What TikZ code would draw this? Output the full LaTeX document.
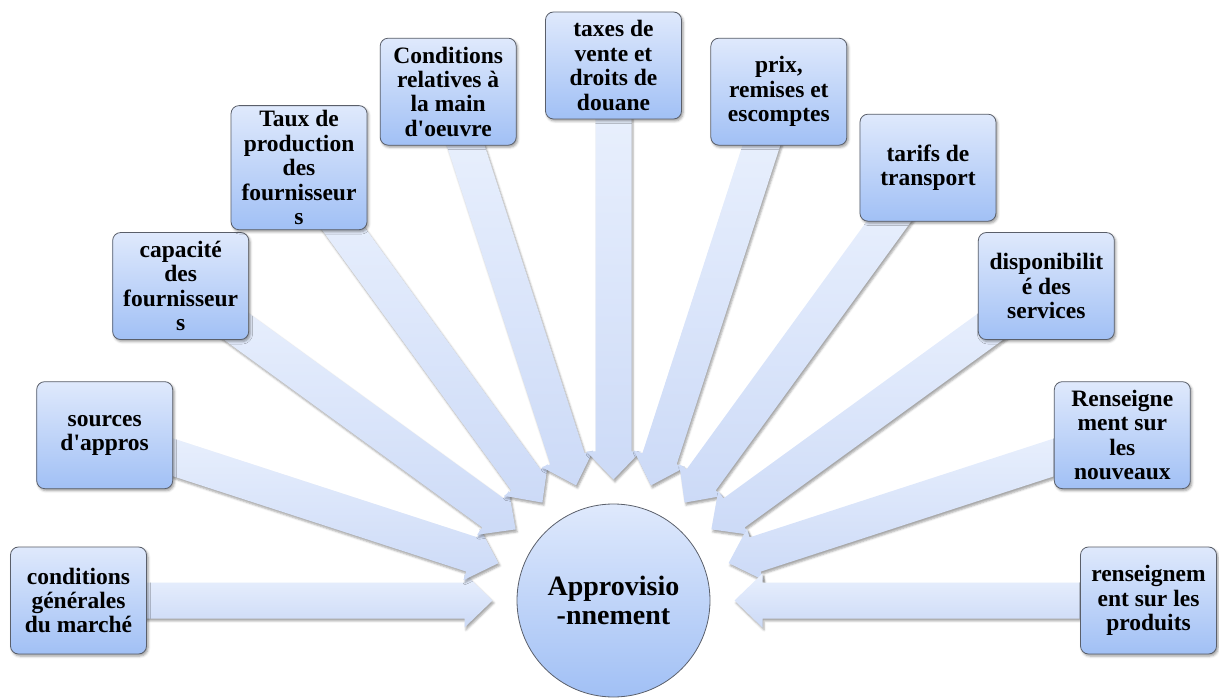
\documentclass[tikz,border=0pt]{standalone}
\usepackage{fontspec}
\setmainfont{Liberation Serif}
\usetikzlibrary{calc,shadows.blur}
\pgfdeclarelayer{background}
\pgfsetlayers{background,main}
\definecolor{boxtop}{HTML}{DFE9FC}
\definecolor{boxbot}{HTML}{A1C0F5}
\definecolor{boxline}{HTML}{5A5F6A}
\definecolor{arrtop}{HTML}{E9F0FD}
\definecolor{arrbot}{HTML}{CCDAF7}

\begin{document}
\begin{tikzpicture}[x=1pt,y=1pt,
  factor/.style={draw=boxline, line width=0.8pt, rounded corners=8pt,
    top color=boxtop, bottom color=boxbot,
    minimum width=136pt, minimum height=107pt, inner sep=5pt, align=center,
    font=\fontsize{23.5}{24.4}\selectfont\bfseries,
    blur shadow={shadow xshift=1.5pt, shadow yshift=-2pt, shadow blur radius=2.5pt, shadow opacity=40}},
  hub/.style={circle, draw=boxline, line width=0.8pt,
    top color=boxtop, bottom color=boxbot,
    minimum size=193pt, inner sep=0pt, align=center,
    font=\fontsize{28}{29.5}\selectfont\bfseries},
  flow/.style={top color=arrtop, bottom color=arrbot,
    blur shadow={shadow xshift=1.5pt, shadow yshift=-2.5pt, shadow blur radius=2pt, shadow opacity=35}}
]
\useasboundingbox (0,0) rectangle (1219,697);

% central hub
\node[hub] (c) at (613.5,96.5) {Approvisio\\-nnement};

% factors on a half circle, 18 degrees apart
\node[factor] (b1)  at ($(c)+(180:535pt)$) {conditions\\générales\\du marché};
\node[factor] (b2)  at ($(c)+(162:535pt)$) {sources\\d\textquotesingle appros};
\node[factor] (b3)  at ($(c)+(144:535pt)$) {capacité\\des\\fournisseur\\s};
\node[factor] (b4)  at ($(c)+(126:535pt)$) {Taux de\\production\\des\\fournisseur\\s};
\node[factor] (b5)  at ($(c)+(108:535pt)$) {Conditions\\relatives à\\la main\\d\textquotesingle oeuvre};
\node[factor] (b6)  at ($(c)+(90:535pt)$)  {taxes de\\vente et\\droits de\\douane};
\node[factor] (b7)  at ($(c)+(72:535pt)$)  {prix,\\remises et\\escomptes};
\node[factor] (b8)  at ($(c)+(54:535pt)$)  {tarifs de\\transport};
\node[factor] (b9)  at ($(c)+(36:535pt)$)  {disponibilit\\é des\\services};
\node[factor] (b10) at ($(c)+(18:535pt)$)  {Renseigne\\ment sur\\les\\nouveaux};
\node[factor] (b11) at ($(c)+(0:535pt)$)   {renseignem\\ent sur les\\produits};

% block arrows converging on the hub
\begin{pgfonlayer}{background}
\foreach \b in {b1,b2,b3,b4,b5,b6,b7,b8,b9,b10,b11}{
  \coordinate (t) at ($(c)!121pt!(\b)$);
  \coordinate (h) at ($(c)!149pt!(\b)$);
  \coordinate (e) at ($(c)!500pt!(\b)$);
  \path[flow] (t) -- ($(h)!27pt!90:(c)$) -- ($(h)!18pt!90:(c)$)
    -- ($(e)!18pt!90:(c)$) -- ($(e)!18pt!-90:(c)$)
    -- ($(h)!18pt!-90:(c)$) -- ($(h)!27pt!-90:(c)$) -- cycle;
}
\end{pgfonlayer}
\end{tikzpicture}
\end{document}
